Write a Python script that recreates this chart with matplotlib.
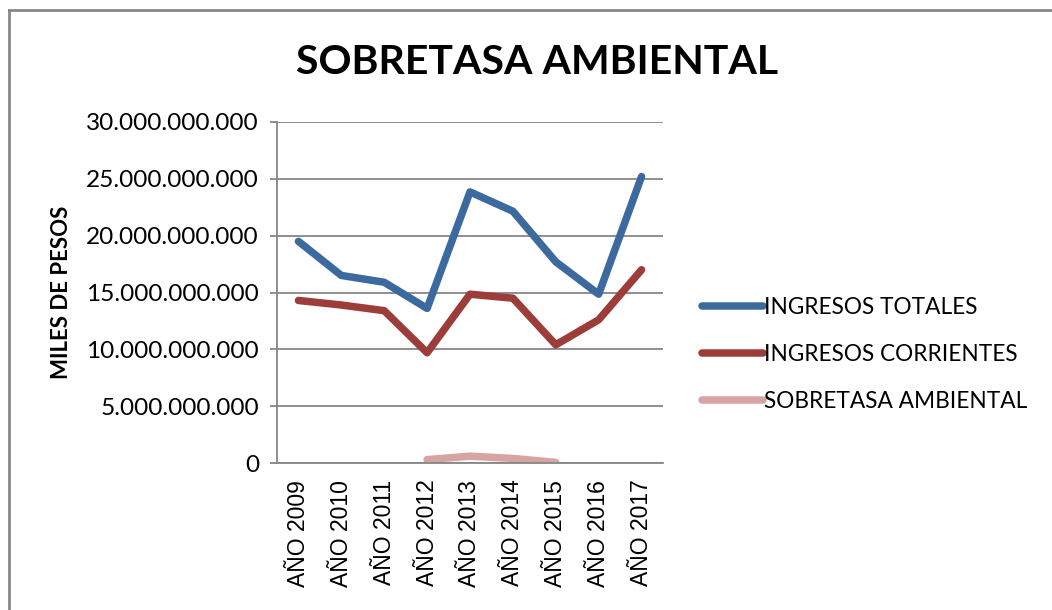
import matplotlib.pyplot as plt
from matplotlib.lines import Line2D
from matplotlib.ticker import FuncFormatter
import numpy as np

years = ['AÑO 2009', 'AÑO 2010', 'AÑO 2011', 'AÑO 2012', 'AÑO 2013',
         'AÑO 2014', 'AÑO 2015', 'AÑO 2016', 'AÑO 2017']
ingresos_totales = [19.5e9, 16.5e9, 15.9e9, 13.6e9, 23.85e9, 22.15e9, 17.7e9, 14.85e9, 25.2e9]
ingresos_corrientes = [14.3e9, 13.9e9, 13.4e9, 9.7e9, 14.85e9, 14.5e9, 10.4e9, 12.6e9, 17.0e9]
sobretasa = [np.nan, np.nan, np.nan, 0.3e9, 0.6e9, 0.4e9, 0.05e9, np.nan, np.nan]

series = [
    ('INGRESOS TOTALES', ingresos_totales, '#3d6a9e'),
    ('INGRESOS CORRIENTES', ingresos_corrientes, '#9c3d3a'),
    ('SOBRETASA AMBIENTAL', sobretasa, '#d6a5a3'),
]

fig = plt.figure(figsize=(10.52, 6.10), dpi=100)
ax = fig.add_axes([277 / 1052, 1 - 463 / 610, (663 - 277) / 1052, (463 - 122) / 610])

x = np.arange(len(years))
for name, vals, color in series:
    ax.plot(x, vals, color=color, linewidth=5.4, solid_capstyle='round',
            solid_joinstyle='round', label=name)

ax.set_xlim(-0.5, len(years) - 0.5)
ax.set_ylim(0, 30e9)
ax.set_yticks(np.arange(0, 30e9 + 1, 5e9))
ax.yaxis.set_major_formatter(FuncFormatter(lambda v, p: f'{int(v):,}'.replace(',', '.')))
ax.grid(axis='y', color='#868686', linewidth=1.3)
ax.set_axisbelow(True)
for s in ['top', 'right']:
    ax.spines[s].set_visible(False)
for s in ['left', 'bottom']:
    ax.spines[s].set_color('#868686')
    ax.spines[s].set_linewidth(1.3)
ax.tick_params(axis='y', length=5, color='#868686', width=1.3, pad=8, labelsize=17.6)
ax.tick_params(axis='x', length=0, pad=12)
for lbl in ax.get_yticklabels():
    lbl.set_fontfamily('Lato')
ax.set_xticks(x)
ax.set_xticklabels(years, rotation=90, fontsize=16.5, family='Liberation Sans')

ax.set_ylabel('MILES DE PESOS', fontsize=16, fontweight='bold', family='Lato', labelpad=10)
fig.text(537 / 1052, 1 - 62 / 610, 'SOBRETASA AMBIENTAL', fontsize=29.5, fontweight='bold',
         family='Lato', ha='center', va='center')

leg = fig.legend(loc='upper left', bbox_to_anchor=(693 / 1052, 1 - 288 / 610), frameon=False,
                 prop={'family': 'Lato', 'size': 16.3}, handlelength=2.7, handletextpad=0.05,
                 labelspacing=1.15, borderaxespad=0)

# outer frame of the chart area
fig.add_artist(Line2D([9 / 1052, 9 / 1052], [0, 1 - 9.5 / 610], transform=fig.transFigure,
                      color='#888888', linewidth=2))
fig.add_artist(Line2D([9 / 1052, 1], [1 - 9.5 / 610, 1 - 9.5 / 610], transform=fig.transFigure,
                      color='#888888', linewidth=2))

fig.savefig('out.png', dpi=100)
